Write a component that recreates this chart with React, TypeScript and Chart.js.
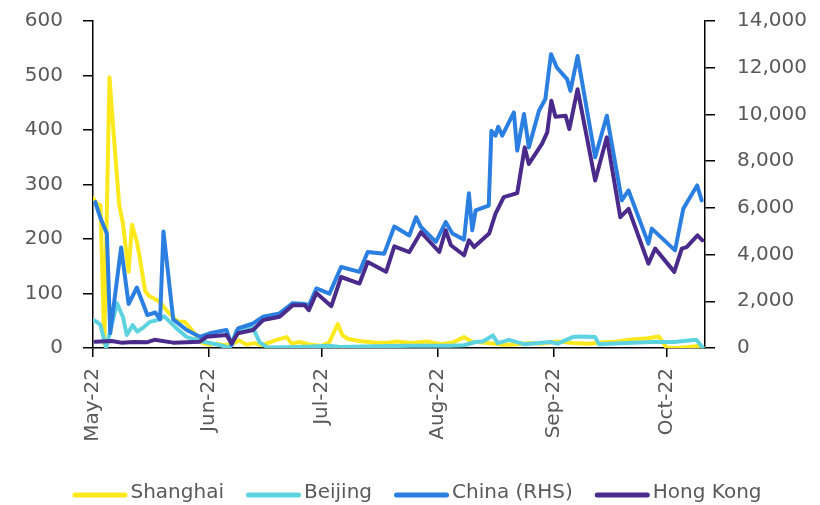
import React, { useEffect, useRef } from 'react';
import { Chart, registerables } from 'chart.js';

Chart.register(...registerables);

// Days counted from 1 May 2022
const monthLabels = ['May-22', 'Jun-22', 'Jul-22', 'Aug-22', 'Sep-22', 'Oct-22'];
const monthStartDays = [0, 31, 61, 92, 123, 153];
const leftTicks = [0, 100, 200, 300, 400, 500, 600];
const rightTicks = [0, 2000, 4000, 6000, 8000, 10000, 12000, 14000];

const shanghaiDays = [0, 1, 2, 3, 4.4, 5, 6, 7, 8, 9.5, 10.4, 11.7, 12.5, 13.9, 15, 16, 17, 18, 19, 20, 21, 22, 23, 24.5, 25, 26, 27, 28, 29, 31, 33, 35, 37, 39, 41, 43, 45, 47, 49, 51.7, 53, 55, 58, 61, 63, 65.3, 66.6, 68, 71, 75, 78, 81, 85, 89, 93, 96, 99, 101, 104, 107, 110, 113, 117, 120, 124, 128, 132, 136, 140, 143, 148, 151, 153, 156, 159, 162];
const shanghaiValues = [275, 265, 262, 8, 497, 440, 350, 262, 228, 140, 226, 195, 165, 105, 95, 92, 88, 84, 74, 66, 60, 52, 48, 48, 44, 36, 28, 18, 10, 6, 8, 5, 7, 14, 6, 9, 5, 10, 15, 20, 8, 11, 6, 4, 10, 44, 23, 17, 13, 10, 9, 12, 9, 12, 7, 10, 20, 12, 10, 8, 6, 7, 9, 8, 12, 9, 8, 10, 12, 15, 18, 21, 1, 0, 2, 4];

const beijingDays = [0, 1, 2, 3.5, 6.4, 8, 9, 10.6, 11.8, 13.5, 15.2, 17, 19, 22.3, 25, 29.3, 34, 36.5, 38.3, 42.7, 44.5, 46.6, 55, 63, 66, 75, 85, 95, 99, 102, 104, 106.7, 108, 111, 115, 122, 124, 128, 130, 134, 135, 142, 149, 155, 161, 162.8];
const beijingValues = [51, 48, 42, 0, 82, 57, 24, 42, 30, 38, 48, 51, 58, 36, 20, 12, 5, 0, 32, 37, 10, 1, 2, 4, 2, 3, 4, 4, 5, 11, 12, 23, 9, 15, 7, 11, 8, 20, 21, 20, 7, 9, 11, 11, 15, 0];

const chinaDays = [0.6, 1.9, 3.7, 4.6, 7.5, 9.5, 11.7, 14.5, 16.6, 17.9, 18.8, 21.4, 25, 28.5, 31.2, 35.6, 37, 38.7, 42.7, 45.4, 49.8, 53.3, 56.6, 57.6, 59.6, 63.1, 66.2, 71.1, 73.3, 77.7, 80.4, 84.4, 86.2, 87.5, 91.5, 94.1, 95.9, 99, 100.3, 101.2, 102.1, 105.6, 106.3, 107.4, 108.1, 109.2, 112.3, 113.2, 115, 116.3, 119, 120.7, 122.2, 123.8, 126.5, 127.4, 129.3, 134, 137.1, 141.1, 142.9, 148.2, 149.1, 155.3, 157.5, 158.8, 161.2, 162.4];
const chinaValues = [6245, 5600, 4900, 630, 4300, 1880, 2590, 1410, 1520, 1225, 4990, 1225, 770, 480, 630, 770, 130, 840, 1050, 1340, 1480, 1920, 1880, 1820, 2550, 2330, 3470, 3260, 4110, 4040, 5200, 4820, 5600, 5180, 4540, 5390, 4900, 4640, 6630, 5040, 5890, 6100, 9300, 9090, 9475, 9090, 10085, 8450, 10015, 8590, 10160, 10660, 12580, 12000, 11510, 11010, 12500, 8165, 9945, 6320, 6745, 4470, 5110, 4180, 5960, 6320, 6960, 6320];

const hongKongDays = [0.6, 5, 7.5, 11, 14.5, 16.4, 21.4, 28.5, 30.3, 35.6, 37, 38.7, 42.7, 45.4, 49.8, 53.3, 56.5, 57.6, 59.6, 63.6, 66.2, 71.1, 73.3, 78.2, 80.4, 84.4, 87.5, 92.4, 94.1, 95.5, 99, 100.3, 101.7, 105.7, 107.4, 109.6, 113.2, 115.2, 116.3, 119.8, 121.2, 122.3, 123.4, 126.1, 127.1, 129.3, 134, 137.1, 140.7, 142.9, 148.2, 150, 155.1, 157.1, 158.4, 161.3, 162.6];
const hongKongValues = [270, 300, 230, 260, 250, 350, 230, 270, 480, 560, 200, 630, 770, 1195, 1340, 1835, 1830, 1620, 2350, 1790, 3040, 2760, 3680, 3260, 4350, 4110, 4960, 4110, 5040, 4400, 3970, 4610, 4320, 4900, 5750, 6460, 6630, 8590, 7880, 8740, 9230, 10585, 9900, 9945, 9375, 11080, 7170, 9020, 5600, 5960, 3615, 4255, 3260, 4255, 4320, 4820, 4610];

const FONT = '"DejaVu Sans", "Noto Sans", sans-serif';
const TEXT_COLOR = '#595959';

function pts(days: number[], values: number[]) {
  return days.map((d, i) => ({ x: d, y: values[i] }));
}

const legendPlugin = {
  id: 'bottomLegend',
  afterDraw(chart: any) {
    const ctx = chart.ctx as CanvasRenderingContext2D;
    ctx.save();
    ctx.font = `20px ${FONT}`;
    const items = chart.data.datasets.map((ds: any) => ({
      text: ds.label as string,
      color: ds.borderColor as string,
      w: ctx.measureText(ds.label).width,
    }));
    const markerW = 55;
    const gapText = 3;
    const gapItem = 22;
    const total =
      items.reduce((s: number, it: any) => s + markerW + gapText + it.w, 0) + gapItem * (items.length - 1);
    let x = chart.width / 2 + 7 - total / 2;
    const yLine = 495;
    const yText = 498;
    for (const it of items) {
      ctx.strokeStyle = it.color;
      ctx.lineWidth = 5;
      ctx.lineCap = 'round';
      ctx.beginPath();
      ctx.moveTo(x + 2.5, yLine);
      ctx.lineTo(x + markerW - 2.5, yLine);
      ctx.stroke();
      ctx.fillStyle = TEXT_COLOR;
      ctx.textAlign = 'left';
      ctx.textBaseline = 'alphabetic';
      ctx.fillText(it.text, x + markerW + gapText, yText);
      x += markerW + gapText + it.w + gapItem;
    }
    ctx.restore();
  },
};

function fixVertical(width: number) {
  return (s: any) => {
    s.width = width;
    s.paddingTop = 0;
    s.paddingBottom = 0;
  };
}

export default function App() {
  const canvasRef = useRef<HTMLCanvasElement | null>(null);

  useEffect(() => {
    document.body.style.margin = '0';
    const canvas = canvasRef.current;
    if (!canvas) return;

    const lineDefaults = {
      borderWidth: 4,
      pointRadius: 0,
      pointHoverRadius: 0,
      tension: 0,
      borderJoinStyle: 'round' as const,
      borderCapStyle: 'round' as const,
      fill: false,
    };

    const chart = new Chart(canvas, {
      type: 'line',
      data: {
        datasets: [
          { ...lineDefaults, label: 'Shanghai', data: pts(shanghaiDays, shanghaiValues), borderColor: '#FBE91E', backgroundColor: '#FBE91E', yAxisID: 'y', order: 4 },
          { ...lineDefaults, label: 'Beijing', data: pts(beijingDays, beijingValues), borderColor: '#5DD3E0', backgroundColor: '#5DD3E0', yAxisID: 'y', order: 3 },
          { ...lineDefaults, label: 'China (RHS)', data: pts(chinaDays, chinaValues), borderColor: '#2B7FE0', backgroundColor: '#2B7FE0', yAxisID: 'y1', order: 2 },
          { ...lineDefaults, label: 'Hong Kong', data: pts(hongKongDays, hongKongValues), borderColor: '#4A2A8A', backgroundColor: '#4A2A8A', yAxisID: 'y1', order: 1 },
        ],
      },
      options: {
        responsive: false,
        animation: false,
        layout: { padding: { top: 21, left: 0, right: 0, bottom: 0 } },
        plugins: {
          legend: { display: false },
          tooltip: { enabled: false },
        },
        scales: {
          x: {
            type: 'linear',
            min: 0,
            max: 163.3,
            border: { display: true, color: '#000', width: 1.5 },
            grid: { drawOnChartArea: false, drawTicks: true, tickLength: 9, color: '#000', lineWidth: 1.5 },
            ticks: {
              autoSkip: false,
              maxRotation: 90,
              minRotation: 90,
              padding: 11,
              color: TEXT_COLOR,
              font: { family: FONT, size: 20 },
              callback: (_v: any, i: number) => monthLabels[i],
            },
            afterBuildTicks: (s: any) => {
              s.ticks = monthStartDays.map((v) => ({ value: v }));
            },
            afterFit: (s: any) => {
              s.height = 157;
              s.paddingLeft = 0;
              s.paddingRight = 0;
            },
          },
          y: {
            type: 'linear',
            position: 'left',
            min: 0,
            max: 600,
            border: { display: true, color: '#000', width: 1.5 },
            grid: { drawOnChartArea: false, drawTicks: true, tickLength: 10, color: '#000', lineWidth: 1.5 },
            ticks: {
              padding: 20,
              color: TEXT_COLOR,
              font: { family: FONT, size: 20 },
            },
            afterBuildTicks: (s: any) => {
              s.ticks = leftTicks.map((v) => ({ value: v }));
            },
            afterFit: fixVertical(93),
          },
          y1: {
            type: 'linear',
            position: 'right',
            min: 0,
            max: 14000,
            border: { display: true, color: '#000', width: 1.5 },
            grid: { drawOnChartArea: false, drawTicks: true, tickLength: 10, color: '#000', lineWidth: 1.5 },
            ticks: {
              padding: 22,
              color: TEXT_COLOR,
              font: { family: FONT, size: 20 },
              callback: (v: any) => Number(v).toLocaleString('en-US'),
            },
            afterBuildTicks: (s: any) => {
              s.ticks = rightTicks.map((v) => ({ value: v }));
            },
            afterFit: fixVertical(115),
          },
        },
      },
      plugins: [legendPlugin],
    });

    return () => {
      chart.destroy();
    };
  }, []);

  return (
    <div style={{ position: 'absolute', left: 0, top: 0, width: 820, height: 505 }}>
      <canvas ref={canvasRef} width={820} height={505} style={{ width: 820, height: 505, display: 'block' }} />
    </div>
  );
}
